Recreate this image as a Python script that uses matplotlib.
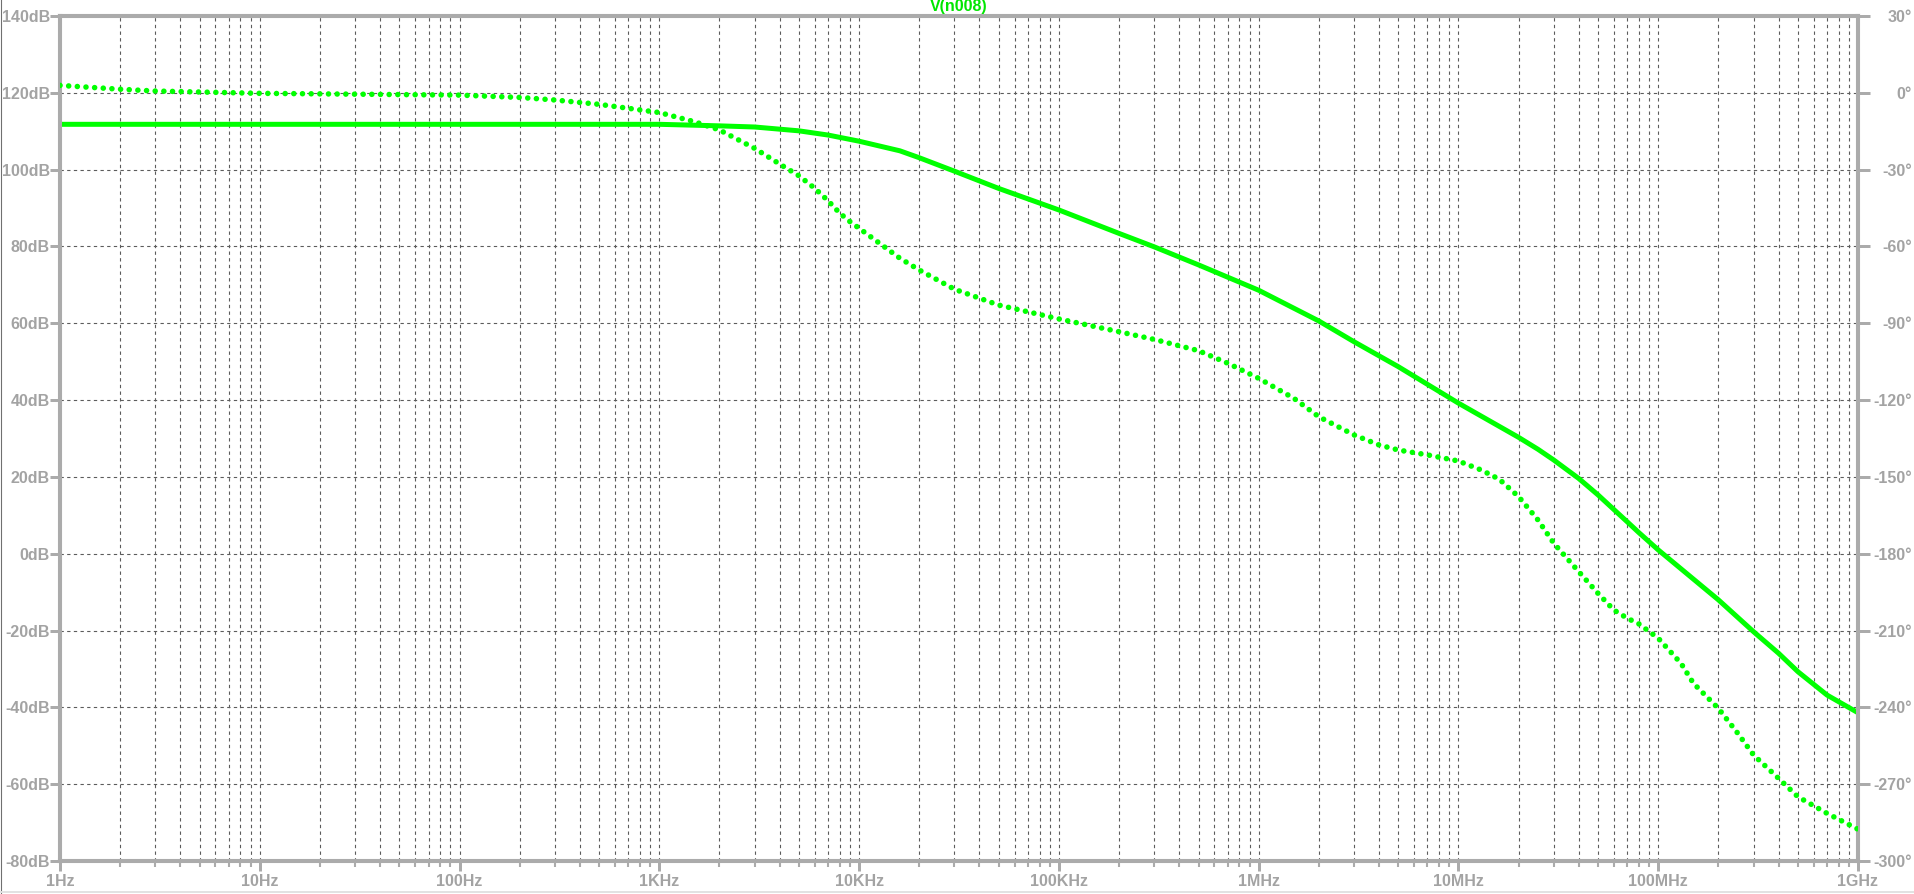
import matplotlib
matplotlib.use('Agg')
import matplotlib.pyplot as plt
from matplotlib.lines import Line2D
from matplotlib.ticker import LogLocator, NullFormatter

plt.rcParams['font.family'] = ['Liberation Sans', 'DejaVu Sans']

# magnitude trace (dB)
mag_freq = [1, 10, 100, 1e3, 2e3, 3e3, 5e3, 7e3, 1e4, 1.6e4, 2e4, 3e4, 5e4, 1e5,
            2e5, 3e5, 5e5, 1e6, 2e6, 3e6, 5e6, 1e7, 2e7, 2.5e7, 3e7, 4e7, 5e7,
            6e7, 7e7, 8e7, 1e8, 2e8, 3e8, 4e8, 5e8, 7e8, 1e9]
mag_db = [111.8, 111.8, 111.8, 111.8, 111.4, 111.1, 110.1, 109.0, 107.4, 104.9,
          103.1, 99.6, 95.1, 89.5, 83.4, 79.9, 75.2, 68.6, 60.6, 55.2, 48.7,
          39.2, 30.3, 27.2, 24.4, 19.6, 15.3, 11.5, 8.3, 5.5, 1.0, -12.0, -20.3,
          -25.9, -30.7, -36.8, -41.4]

# phase trace (degrees)
phase_freq = [1, 2, 3, 10, 100, 200, 300, 500, 1e3, 1.5e3, 2e3, 3e3, 4e3, 5e3,
              6e3, 7e3, 8e3, 9e3, 1e4, 1.6e4, 2e4, 3e4, 5e4, 1e5, 2e5, 3e5, 5e5,
              7e5, 1e6, 1.5e6, 2e6, 3e6, 4e6, 5e6, 7e6, 1e7, 1.3e7, 1.6e7, 2e7,
              2.5e7, 3e7, 4e7, 5e7, 6e7, 7e7, 8e7, 1e8, 1.3e8, 1.5e8, 2e8, 2.5e8,
              3e8, 4e8, 5e8, 7e8, 1e9]
phase_deg = [2.9, 1.4, 0.7, -0.2, -0.9, -1.8, -2.8, -4.5, -7.7, -11.3, -14.5,
             -21.7, -27.8, -32.4, -37.3, -42.2, -47.0, -50.3, -52.9, -64.6,
             -69.2, -76.7, -82.9, -88.3, -93.3, -96.3, -100.7, -105.6, -111.5,
             -119.3, -126.5, -133.6, -137.5, -139.5, -141.4, -143.8, -147.3,
             -150.9, -157.7, -166.8, -175.9, -187.0, -195.5, -202.0, -205.2,
             -207.4, -213.0, -222.8, -230.6, -240.4, -250.1, -258.6, -267.7,
             -274.9, -281.4, -287.6]

x_ticks = [1, 10, 100, 1e3, 1e4, 1e5, 1e6, 1e7, 1e8, 1e9]
x_labels = ['1Hz', '10Hz', '100Hz', '1KHz', '10KHz', '100KHz', '1MHz', '10MHz',
            '100MHz', '1GHz']
db_ticks = list(range(-80, 141, 20))
deg_ticks = list(range(-300, 31, 30))

green = '#00ff00'
frame = '#ababab'
text_c = '#a3a3a3'
grid_c = '#5c5c5c'

fig = plt.figure(figsize=(19.15, 8.94), dpi=100)
ax = fig.add_axes([60 / 1915, 33 / 894, 1798 / 1915, 845 / 894])
ax2 = ax.twinx()

ax.semilogx(mag_freq, mag_db, color=green, lw=3.6, solid_capstyle='butt', zorder=3)
ax2.semilogx(phase_freq, phase_deg, color=green, lw=4.0,
             linestyle=(0, (0.01, 1.55)), dash_capstyle='round', zorder=3)

ax.set_xlim(1, 1e9)
ax.set_ylim(-80, 140)
ax2.set_ylim(-300, 30)

ax.set_xticks(x_ticks)
ax.set_xticklabels(x_labels)
ax.xaxis.set_minor_locator(LogLocator(base=10, subs=range(2, 10), numticks=100))
ax.xaxis.set_minor_formatter(NullFormatter())
ax.set_yticks(db_ticks)
ax.set_yticklabels([f'{v}dB' for v in db_ticks])
ax2.set_yticks(deg_ticks)
ax2.set_yticklabels([f'{v}°' for v in deg_ticks])

ax.grid(True, which='both', axis='x', color=grid_c, lw=0.8, linestyle=(0, (3, 3)))
ax.grid(True, which='major', axis='y', color=grid_c, lw=0.8, linestyle=(0, (3, 3)))
ax.set_axisbelow(True)

for a in (ax, ax2):
    for s in a.spines.values():
        s.set_color(frame)
        s.set_linewidth(2.9)

ax.tick_params(axis='y', which='major', length=7.2, width=2.16, color=frame,
               labelcolor=text_c, labelsize=11.5, pad=0)
ax.tick_params(axis='x', which='major', length=7.5, width=2.16, color=frame,
               labelcolor=text_c, labelsize=11.5, pad=1.5)
ax.tick_params(axis='x', which='minor', length=4.0, width=1.5, color=frame)
ax2.tick_params(axis='y', which='major', length=8.6, width=2.16, color=frame,
                labelcolor=text_c, labelsize=11.5, pad=30.3)
for lbl in ax.get_xticklabels() + ax.get_yticklabels():
    lbl.set_fontweight('bold')
for lbl in ax2.get_yticklabels():
    lbl.set_horizontalalignment('right')
    lbl.set_fontweight('bold')

fig.text(959 / 1915, 1 - 7 / 894, 'V(n008)', ha='center', va='center',
         color='#00e600', fontweight='bold', fontsize=11.5)

# window border
fig.add_artist(Line2D([0.6 / 1915, 0.6 / 1915], [0, 1], transform=fig.transFigure,
                      color='#707070', lw=0.8))
fig.add_artist(Line2D([0, 1], [2 / 894, 2 / 894], transform=fig.transFigure,
                      color='#e2e2e2', lw=1.4))

fig.savefig('out.png', dpi=100)
